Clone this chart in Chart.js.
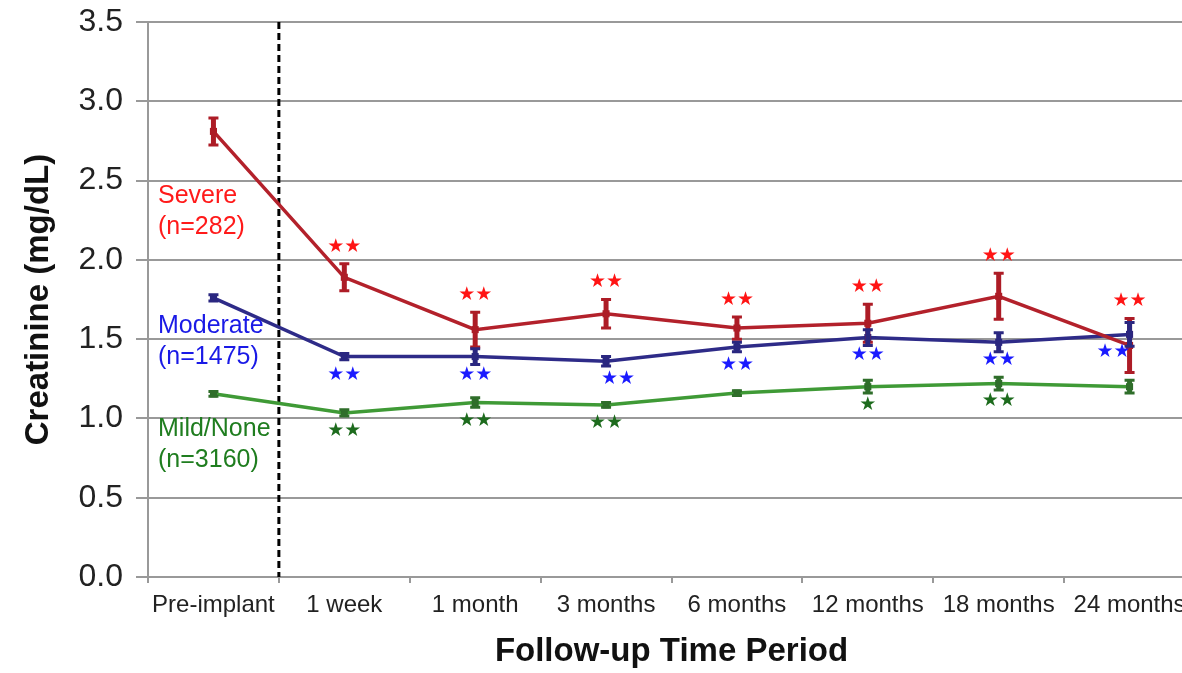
<!DOCTYPE html>
<html>
<head>
<meta charset="utf-8">
<script src="https://cdn.jsdelivr.net/npm/chart.js"></script>
<style>
html, body { margin: 0; padding: 0; background: #fff; overflow: hidden; }
#wrap { width: 1200px; height: 673px; position: relative; }
</style>
</head>
<body>
<div id="wrap"><canvas id="chart"></canvas></div>
<script>
var periods = ['Pre-implant', '1 week', '1 month', '3 months', '6 months', '12 months', '18 months', '24 months']
var yTicks = [0, 0.5, 1.0, 1.5, 2.0, 2.5, 3.0, 3.5]

var severe = [2.81, 1.89, 1.56, 1.66, 1.57, 1.60, 1.77, 1.46]
var severeErr = [0.085, 0.085, 0.11, 0.09, 0.07, 0.12, 0.145, 0.17]
var severeStars = ['', '★★', '★★', '★★', '★★', '★★', '★★', '★★']

var moderate = [1.76, 1.39, 1.39, 1.36, 1.45, 1.51, 1.48, 1.53]
var moderateErr = [0.02, 0.02, 0.05, 0.03, 0.03, 0.05, 0.06, 0.075]
var moderateStars = ['', '★★', '★★', '★★', '★★', '★★', '★★', '★★']

var mild = [1.155, 1.035, 1.10, 1.085, 1.16, 1.20, 1.22, 1.20]
var mildErr = [0.015, 0.02, 0.03, 0.015, 0.015, 0.04, 0.04, 0.04]
var mildStars = ['', '★★', '★★', '★★', '', '★', '★★', '']

var groupNames = ['Severe', 'Moderate', 'Mild/None']
var groupCounts = ['(n=282)', '(n=1475)', '(n=3160)']

// colours: line, error bar, label text, stars
var styles = [
    { line: '#b3212b', bar: '#ad1c26', text: '#ff1a1a', star: '#ff1414', labelAt: 2.40, starSide: -1 },
    { line: '#2e2b88', bar: '#2a2780', text: '#1a1ae6', star: '#1a1aff', labelAt: 1.58, starSide: 1 },
    { line: '#3f9a36', bar: '#2f6e2a', text: '#1f7d1f', star: '#1d6b1d', labelAt: 0.93, starSide: 1 }
]
var errs = [severeErr, moderateErr, mildErr]
var stars = [severeStars, moderateStars, mildStars]
var starNudge = { 1: { 3: 12, 7: -16 } }

var extras = {
    id: 'extras',
    beforeDatasetsDraw: function (chart) {
        var ctx = chart.ctx, x = chart.scales.x, a = chart.chartArea
        var xs = (x.getPixelForValue(0) + x.getPixelForValue(1)) / 2
        ctx.save()
        ctx.strokeStyle = '#000'
        ctx.lineWidth = 3
        ctx.setLineDash([7, 4])
        ctx.beginPath()
        ctx.moveTo(xs, a.top)
        ctx.lineTo(xs, a.bottom)
        ctx.stroke()
        ctx.restore()
    },
    afterDatasetsDraw: function (chart) {
        var ctx = chart.ctx, x = chart.scales.x, y = chart.scales.y, a = chart.chartArea
        ctx.save()
        chart.data.datasets.forEach(function (ds, d) {
            var st = styles[d]
            ds.data.forEach(function (v, i) {
                var px = x.getPixelForValue(i)
                var top = y.getPixelForValue(v + errs[d][i])
                var bot = y.getPixelForValue(v - errs[d][i])
                ctx.strokeStyle = st.bar
                ctx.lineWidth = 5
                ctx.beginPath()
                ctx.moveTo(px, top)
                ctx.lineTo(px, bot)
                ctx.stroke()
                ctx.lineWidth = 3
                ctx.beginPath()
                ctx.moveTo(px - 5, top); ctx.lineTo(px + 5, top)
                ctx.moveTo(px - 5, bot); ctx.lineTo(px + 5, bot)
                ctx.stroke()
                // significance stars
                var s = stars[d][i]
                if (s) {
                    var sy = st.starSide < 0 ? top - 17 : y.getPixelForValue(v) + 18
                    var nud = (starNudge[d] && starNudge[d][i]) || 0
                    ctx.fillStyle = st.star
                    ctx.font = '19px "DejaVu Sans", sans-serif'
                    ctx.textAlign = 'center'
                    ctx.textBaseline = 'middle'
                    ctx.fillText(s, px + nud, sy)
                }
            })
            // group labels
            ctx.fillStyle = st.text
            ctx.font = '25px "Liberation Sans", Arial, sans-serif'
            ctx.textAlign = 'left'
            ctx.textBaseline = 'middle'
            var ly = y.getPixelForValue(st.labelAt)
            ctx.fillText(groupNames[d], a.left + 10, ly)
            ctx.fillText(groupCounts[d], a.left + 10, ly + 31)
        })
        ctx.restore()
    }
}

var ctx = document.getElementById('chart')
var chart = new Chart(ctx, {
    type: 'line',
    data: {
        labels: periods,
        datasets: [
            { label: 'Severe', data: severe },
            { label: 'Moderate', data: moderate },
            { label: 'Mild/None', data: mild }
        ].map(function (ds, d) {
            ds.borderColor = styles[d].line
            ds.backgroundColor = styles[d].bar
            ds.borderWidth = 3.5
            ds.pointStyle = 'rect'
            ds.pointRadius = 5
            ds.pointBorderWidth = 0
            ds.tension = 0
            return ds
        })
    },
    options: {
        responsive: true,
        maintainAspectRatio: false,
        animation: false,
        layout: { padding: { top: 22, right: 4, left: 0, bottom: 0 } },
        plugins: {
            legend: { display: false },
            tooltip: { enabled: false }
        },
        scales: {
            x: {
                type: 'category',
                offset: true,
                afterFit: function (s) { s.height = 96 },
                grid: { display: true, drawOnChartArea: false, offset: true, tickLength: 6, color: '#999', lineWidth: 2 },
                border: { color: '#999', width: 2 },
                ticks: {
                    color: '#222',
                    font: { family: '"Liberation Sans", Arial, sans-serif', size: 24 },
                    padding: 8,
                    maxRotation: 0,
                    autoSkip: false
                },
                title: {
                    display: true,
                    text: 'Follow-up Time Period',
                    color: '#111',
                    font: { family: '"Liberation Sans", Arial, sans-serif', size: 33, weight: 'bold' },
                    padding: { top: 0, bottom: 1 }
                }
            },
            y: {
                min: 0,
                max: 3.5,
                afterFit: function (s) { s.width = 148; s.paddingTop = 0 },
                afterBuildTicks: function (s) { s.ticks = yTicks.map(function (v) { return { value: v } }) },
                grid: { color: '#999', lineWidth: 2, tickLength: 12 },
                border: { color: '#999', width: 2 },
                ticks: {
                    color: '#222',
                    font: { family: '"Liberation Sans", Arial, sans-serif', size: 32, lineHeight: 0.6 },
                    padding: 13,
                    callback: function (v) { return Number(v).toFixed(1) }
                },
                title: {
                    display: true,
                    text: 'Creatinine (mg/dL)',
                    color: '#111',
                    font: { family: '"Liberation Sans", Arial, sans-serif', size: 33, weight: 'bold' },
                    padding: { top: 19, bottom: 0 }
                }
            }
        }
    },
    plugins: [extras]
})
</script>
</body>
</html>
